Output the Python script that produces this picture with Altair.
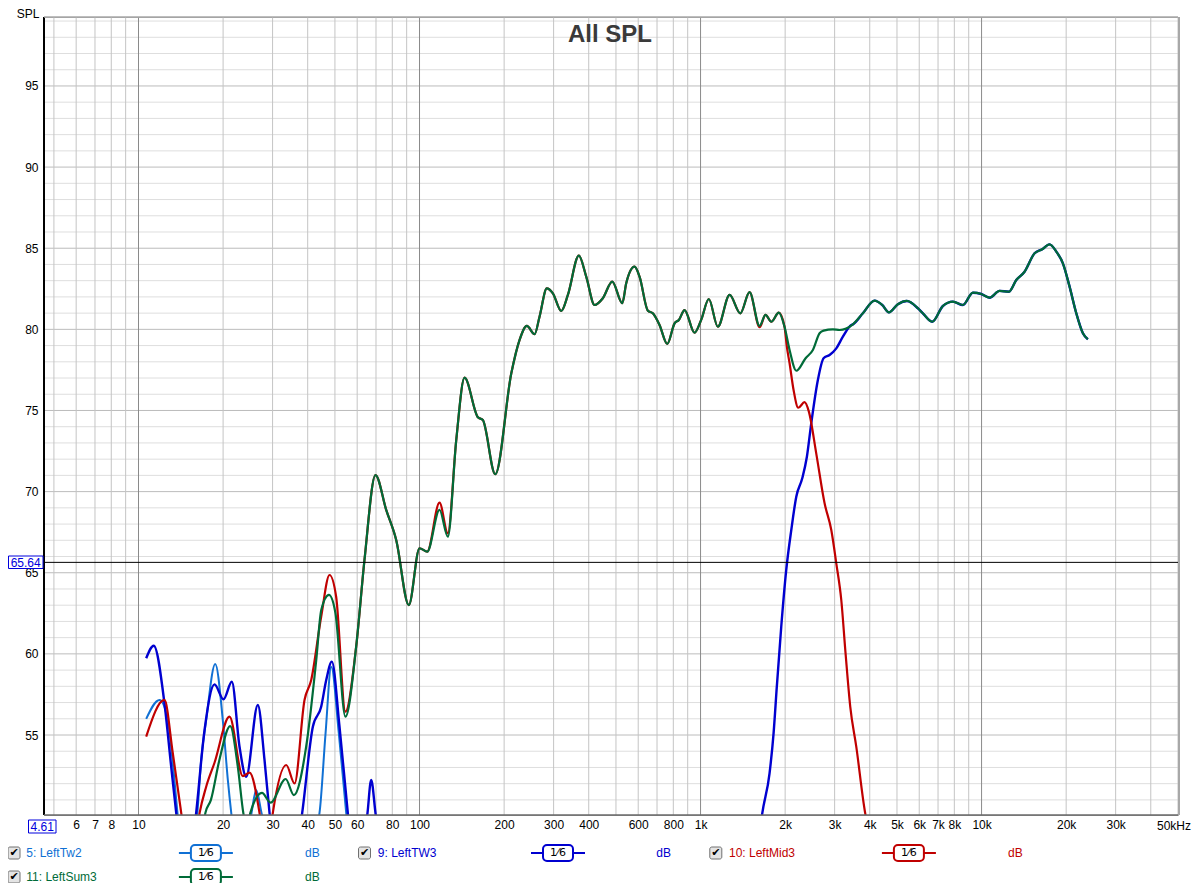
import altair as alt
import pandas as pd

FONT = "Liberation Sans"

# ---------------- data (Hz, dB SPL) ----------------
tw2_freq = [10.65, 11.88, 12.71, 13.32, 13.76, 15.0, 16.2, 16.71, 17.41, 18.75, 19.95, 20.79, 21.38,
            23.3, 25.25, 26.23, 27.4, 35.0, 44.06, 46.3, 48.51, 51.62, 54.84, 58.0]
tw2_db = [55.99, 57.16, 55.92, 52.84, 50.2, 46.0, 50.2, 53.46, 55.92, 59.38, 55.92, 52.23, 50.2,
          46.0, 50.2, 51.61, 50.2, 44.0, 50.2, 55.1, 59.21, 55.1, 50.2, 46.0]

tw3_freq = [10.65, 11.33, 12.37, 13.07, 13.62, 14.8, 16.04, 17.18, 18.64, 20.06, 21.48, 22.88, 24.17,
            26.58, 28.08, 29.26, 33.5, 38.24, 41.72, 44.67, 46.56, 48.75, 51.91, 55.56, 60.0, 65.3,
            67.3, 69.7, 75.0, 1550, 1658, 1760, 1819, 1868, 1937, 2018, 2103, 2191, 2301, 2390, 2477,
            2615, 2740, 2878, 3041, 3210, 3439, 3484, 3781, 4161, 4432, 4679, 5037, 5423, 5934, 6181,
            6676, 7283, 7905, 8580, 9311, 9975, 10680, 11590, 12510, 13290, 14220, 15440, 16440,
            17460, 18450, 19470, 20570, 21730, 22940, 23890]
tw3_db = [59.73, 60.5, 56.95, 53.05, 50.2, 45.0, 50.2, 55.31, 58.12, 57.2, 58.28, 54.28, 52.43,
          56.85, 53.46, 50.2, 44.0, 50.2, 55.51, 56.74, 58.39, 59.52, 55.51, 50.2, 45.0, 50.2,
          52.23, 50.2, 46.0, 46.0, 50.17, 52.64, 55.1, 57.98, 61.67, 65.17, 67.63, 69.69, 70.82, 72.15, 74.21,
          76.88, 78.22, 78.42, 78.83, 79.55, 80.27, 80.31, 80.99, 81.77, 81.5, 81.05, 81.55, 81.75, 81.3, 80.99,
          80.47, 81.44, 81.71, 81.5, 82.26, 82.18, 81.95, 82.37, 82.32, 83.04, 83.55, 84.69, 84.94,
          85.24, 84.79, 84.07, 82.63, 80.99, 79.76, 79.39]

mid3_freq = [10.65, 12.37, 13.24, 14.19, 15.3, 16.5, 17.4, 18.64, 21.08, 23.5, 24.83, 26.95, 28.5,
             30.06, 33.55, 35.92, 38.97, 41.17, 44.67, 47.84, 50.5, 54.5, 59.5, 63.7, 69.7, 76.1,
             82.6, 91.6, 100, 106.5, 117.8, 126.1, 135.1, 144.6, 161.3, 168.0, 186.0, 212.1, 227.0,
             241.0, 256.7, 267.3, 283.8, 298.2, 319.4, 337.2, 368.9, 391.9, 419.6, 449.0, 485.1,
             526.6, 543.9, 582.3, 606.6, 649.4, 676.5, 714.5, 761.2, 808.2, 837.2, 877.3, 952.0,
             1006, 1070, 1152, 1269, 1385, 1494, 1622, 1703, 1785, 1899, 1990, 2028, 2074, 2143,
             2227, 2345, 2429, 2580, 2763, 2919, 3041, 3168, 3281, 3410, 3582, 3855, 3929]
mid3_db = [54.9, 57.16, 53.9, 50.2, 46.0, 50.2, 51.8, 53.29, 56.13, 52.47, 52.68, 50.2, 47.0,
           50.2, 53.15, 52.01, 57.16, 58.39, 62.29, 64.86, 63.52, 56.44, 60.44, 65.79, 71.02, 68.87,
           67.02, 63.01, 66.51, 66.3, 69.32, 67.43, 73.18, 77.02, 74.58, 74.41, 71.07, 77.29, 79.35,
           80.21, 79.7, 80.78, 82.53, 82.22, 81.13, 82.12, 84.54, 83.25, 81.5, 81.92, 82.94,
           81.61, 82.84, 83.86, 83.25, 81.15, 80.99, 80.27, 79.1, 80.37, 80.58, 81.19, 79.79,
           80.6, 81.87, 80.16, 82.12, 80.99, 82.29, 80.13, 80.89, 80.47, 81.03, 80.16, 78.93, 77.91, 76.26,
           75.17, 75.51, 74.93, 72.36, 69.28, 67.63, 65.58, 63.32, 60.03, 56.74, 54.28, 50.17, 49.45]

sum3_freq = [16.8, 17.3, 18.1, 19.4, 21.2, 22.56, 23.6, 24.3, 25.0, 27.5, 29.5, 33.4, 35.7, 39.5,
             42.9, 44.7, 47.6, 50.2, 54.5, 59.5, 63.7, 69.7, 76.1, 82.6, 91.6, 100, 106.5, 117.8,
             126.1, 135.1, 144.6, 161.3, 168.0, 186.0, 212.1, 227.0, 241.0, 256.7, 267.3, 283.8,
             298.2, 319.4, 337.2, 368.9, 391.9, 419.6, 449.0, 485.1, 526.6, 543.9, 582.3, 606.6,
             649.4, 676.5, 714.5, 761.2, 808.2, 837.2, 877.3, 952.0, 1006, 1070, 1152, 1269, 1385,
             1494, 1622, 1703, 1785, 1899, 1990, 2074, 2191, 2365, 2510, 2652, 2740, 2957, 3124,
             3484, 3781, 4161, 4432, 4679, 5037, 5423, 5934, 6181, 6676, 7283, 7905, 8580, 9311,
             9975, 10680, 11590, 12510, 13290, 14220, 15440, 16440, 17460, 18450, 19470, 20570,
             21730, 22940, 23890]
sum3_db = [48.0, 50.2, 51.0, 53.46, 55.55, 53.05, 50.2, 49.2, 50.2, 51.43, 50.83, 52.29, 51.3, 54.28,
           59.62, 62.7, 63.63, 62.52, 56.13, 60.44, 65.79, 71.02, 68.87, 67.02, 63.01, 66.51, 66.3, 68.87,
           67.22, 73.18, 77.02, 74.58, 74.41, 71.07, 77.29, 79.35, 80.21, 79.7, 80.78, 82.53,
           82.22, 81.13, 82.12, 84.54, 83.25, 81.5, 81.92, 82.94, 81.61, 82.84, 83.86, 83.25,
           81.15, 80.99, 80.27, 79.1, 80.37, 80.58, 81.19, 79.79, 80.6, 81.87, 80.16, 82.12, 80.99,
           82.29, 80.21, 80.89, 80.47, 81.03, 80.16, 78.73, 77.45, 78.22, 78.73, 79.76, 79.92, 80.0, 79.96,
           80.31, 80.99, 81.77, 81.5, 81.05, 81.55, 81.75, 81.3, 80.99, 80.47, 81.44, 81.71, 81.5, 82.26,
           82.18, 81.95, 82.37, 82.32, 83.04, 83.55, 84.69, 84.94, 85.24, 84.79, 84.07, 82.63,
           80.99, 79.76, 79.39]

series_names = ["5: LeftTw2", "9: LeftTW3", "10: LeftMid3", "11: LeftSum3"]
series_colors = ["#1070d4", "#0000d0", "#c00000", "#006b38"]
cursor_db = 65.64
x_label_values = [6, 7, 8, 10, 20, 30, 40, 50, 60, 80, 100, 200, 300, 400, 600, 800, 1000, 2000,
                  3000, 4000, 5000, 6000, 7000, 8000, 10000, 20000, 30000]
y_label_values = [55, 60, 65, 70, 75, 80, 85, 90, 95]
x_grid_major = [10, 100, 1000, 10000]
x_grid_minor = [m * 10 ** k for k in range(0, 5) for m in range(2, 10) if 4.61 <= m * 10 ** k <= 50000]
y_grid_major = list(range(55, 100, 5))
y_grid_minor = [v for v in range(51, 100) if v % 5]

# ---------------- chart ----------------
W, H = 1134, 798
xs = alt.Scale(type="log", domain=[4.61, 50000], nice=False)
ys = alt.Scale(domain=[50.07, 99.25], nice=False, zero=False)

x_axis = alt.Axis(values=x_label_values, title=None, grid=False, ticks=False, tickSize=0, domain=False,
                  labelExpr="datum.value >= 1000 ? (datum.value / 1000) + 'k' : '' + datum.value",
                  labelFont=FONT, labelFontSize=12, labelColor="#000000", labelPadding=4,
                  labelOverlap=False, labelFlush=False, labelBound=False, zindex=0)
y_axis = alt.Axis(values=y_label_values, title=None, grid=False, ticks=False, tickSize=0, domain=False,
                  labelFont=FONT, labelFontSize=12, labelColor="#000000", labelPadding=6,
                  labelOverlap=False, labelFlush=False, zindex=0)

def xgrid(vals, color):
    return alt.Chart(pd.DataFrame({"f": vals})).mark_rule(color=color, strokeWidth=1).encode(
        x=alt.X("f:Q", scale=xs, axis=x_axis))

def ygrid(vals, color):
    return alt.Chart(pd.DataFrame({"v": vals})).mark_rule(color=color, strokeWidth=1).encode(
        y=alt.Y("v:Q", scale=ys, axis=y_axis))

layers = [ygrid(y_grid_minor, "#dedede"), ygrid(y_grid_major, "#bcbcbc"),
          xgrid(x_grid_minor, "#c4c4c4"), xgrid(x_grid_major, "#8a8a8a")]

series = [(tw2_freq, tw2_db), (tw3_freq, tw3_db), (mid3_freq, mid3_db), (sum3_freq, sum3_db)]
widths = [2.0, 2.4, 2.2, 2.2]
for (f, d), name, col, sw in zip(series, series_names, series_colors, widths):
    dfi = pd.DataFrame({"freq": f, "spl": d})
    layers.append(alt.Chart(dfi).mark_line(color=col, strokeWidth=sw, interpolate="monotone", clip=True).encode(
        x=alt.X("freq:Q", scale=xs, axis=x_axis), y=alt.Y("spl:Q", scale=ys, axis=y_axis)))

# cursor line
layers.append(alt.Chart(pd.DataFrame({"v": [cursor_db]})).mark_rule(color="#000000", strokeWidth=1).encode(
    y=alt.Y("v:Q", scale=ys, axis=y_axis)))

anchor = pd.DataFrame({"k": [0]})

def text_layer(text, x, y, color="#000000", size=12, align="left", weight="normal", font=FONT):
    return alt.Chart(anchor).mark_text(text=text, align=align, baseline="middle", color=color,
                                       fontSize=size, font=font, fontWeight=weight).encode(
        x=alt.value(x), y=alt.value(y))

def rect_layer(x1, x2, y1, y2, fill, stroke, sw=1, radius=0):
    return alt.Chart(anchor).mark_rect(fill=fill, stroke=stroke, strokeWidth=sw, cornerRadius=radius).encode(
        x=alt.value(x1), x2=alt.value(x2), y=alt.value(y1), y2=alt.value(y2))

def hline_layer(x1, x2, y, color, sw):
    return alt.Chart(anchor).mark_rule(color=color, strokeWidth=sw).encode(
        x=alt.value(x1), x2=alt.value(x2), y=alt.value(y))

# frame lines
layers.append(alt.Chart(anchor).mark_rule(color="#000000", strokeWidth=2).encode(
    x=alt.value(0), y=alt.value(0), y2=alt.value(H)))
layers.append(hline_layer(0, W, H, "#6a6a6a", 1.5))
layers.append(hline_layer(0, W, 0, "#a8a8a8", 1.5))
layers.append(alt.Chart(anchor).mark_rule(color="#a8a8a8", strokeWidth=2).encode(
    x=alt.value(W + 1), y=alt.value(0), y2=alt.value(H)))

# title and axis captions
layers.append(text_layer("All SPL", 566, 18, color="#3a3a3a", size=24, align="center", weight="bold"))
layers.append(text_layer("SPL", -16, -3, align="center"))
layers.append(text_layer("50kHz", 1147, 809, align="right"))
layers.append(rect_layer(-35.5, -1, 539, 551.5, "#ffffff", "#0000dd", 1))
layers.append(text_layer("65.64", -18.3, 545.5, color="#0000dd", align="center"))
layers.append(rect_layer(-15.5, 12, 803, 816, "#ffffff", "#0000dd", 1))
layers.append(text_layer("4.61", -1.8, 809.5, color="#0000dd", align="center"))

# legend
legend_pos = [(-30, -17.7, 161.9, 268.4, 836), (320.5, 333.8, 514, 619.7, 836),
              (671.8, 685, 864.9, 971.4, 836), (-30, -17.7, 161.9, 268.4, 860)]
for name, col, (cb, tx, bx, dbx, ry) in zip(series_names, series_colors, legend_pos):
    layers.append(rect_layer(cb - 6, cb + 6, ry - 6, ry + 6, "#e4e4e4", "#707070", 1, 2))
    layers.append(text_layer("\u2714", cb, ry, color="#000000", size=11, align="center", font="DejaVu Sans"))
    layers.append(text_layer(name, tx, ry, color=col, size=12))
    layers.append(hline_layer(bx - 27, bx + 27, ry, col, 2))
    layers.append(rect_layer(bx - 15, bx + 15, ry - 8, ry + 8, "#ffffff", col, 2, 4))
    layers.append(text_layer("1\u20446", bx, ry, color="#000000", size=11, align="center", font="DejaVu Sans"))
    layers.append(text_layer("dB", dbx, ry, color=col, size=12, align="center"))

chart = alt.layer(*layers).properties(
    width=W, height=H,
    padding={"left": 36, "top": 9, "right": 14, "bottom": 68},
    autosize=alt.AutoSizeParams(type="none"),
    background="#ffffff",
).configure_view(stroke="#9a9a9a", strokeWidth=1)

chart.save("out.html", embed_options={"renderer": "svg", "actions": False})
